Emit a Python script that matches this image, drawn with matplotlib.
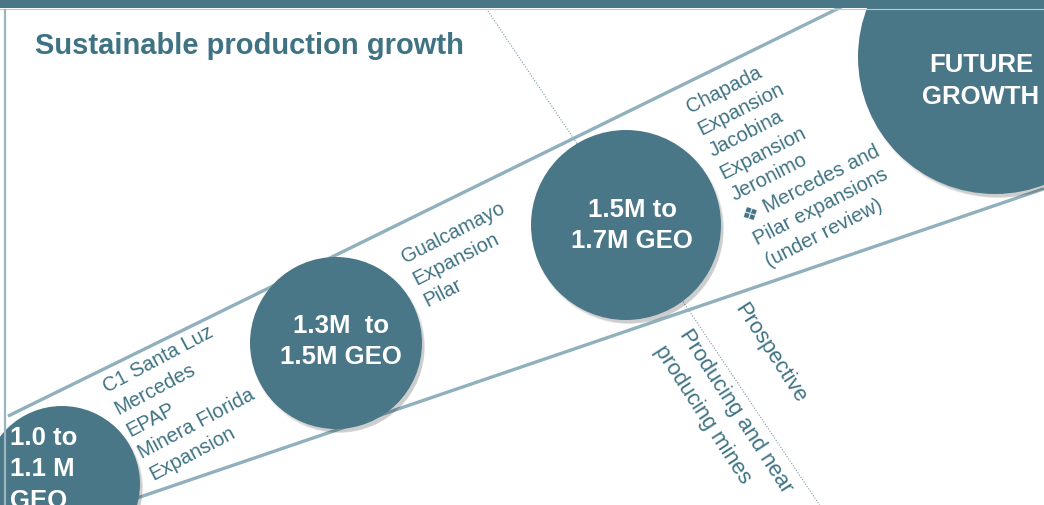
import matplotlib
matplotlib.use("Agg")
import matplotlib.pyplot as plt
from matplotlib.patches import Circle, Rectangle
import numpy as np

plt.rcParams['font.family'] = ['Liberation Sans', 'DejaVu Sans']

# stages of the growth path
stage_labels = [["1.0 to", "1.1 M", "GEO"], ["1.3M  to", "1.5M GEO"],
                ["1.5M to", "1.7M GEO"], ["FUTURE", "GROWTH"]]
projects_1 = ["C1 Santa Luz", "Mercedes", "EPAP", "Minera Florida", "Expansion"]
projects_2 = ["Gualcamayo", "Expansion", "Pilar"]
projects_3 = ["Chapada", "Expansion", "Jacobina", "Expansion", "Jeronimo",
              "\u2756 Mercedes and", "Pilar expansions", "(under review)"]
phase_left = ["Producing and near", "producing mines"]
phase_right = ["Prospective"]
title = "Sustainable production growth"

# layout (pixels)
circle_xy = [(62, 485), (336, 344), (626, 226), (995, 58)]
circle_r = [78, 86, 95, 137]
label_xy = [(10, 445), (341, 333), (632, 217), (981, 72)]
label_ha = ["left", "center", "center", "center"]
proj_xy = [(107, 393), (405, 263), (690, 113)]
proj_rot = [28, 27, 27]

teal = "#4a7787"
text_teal = "#3f7384"
band = "#8fb0bc"

fig = plt.figure(figsize=(10.44, 5.06), dpi=100)
ax = fig.add_axes([0, 0, 1, 1])
ax.set_xlim(0, 1044)
ax.set_ylim(506, 0)
ax.axis("off")


def stack(lines, x0, y0, rot, step, **kw):
    # one text per line, stacked along the rotated "down" direction
    a = np.deg2rad(rot)
    dx, dy = np.sin(a), np.cos(a)
    for i, s in enumerate(lines):
        ax.text(x0 + i * step * dx, y0 + i * step * dy, s, rotation=rot,
                rotation_mode="anchor", va="baseline", zorder=5, **kw)


# dotted divider
ax.plot([488, 830], [12, 12 + 1.49 * 342], color="#7d98a3", lw=0.8, ls=(0, (1, 1.5)), zorder=1)

# band edges
xu = np.array([8, 870])
ax.plot(xu, 421 - 0.491 * xu, color=band, lw=2.4, zorder=2, solid_capstyle="butt")
xl = np.array([100, 1044])
ax.plot(xl, 498 - 0.341 * (xl - 140), color=band, lw=2.4, zorder=2, solid_capstyle="butt")

# circles with soft shadow
for (cx, cy), r in zip(circle_xy, circle_r):
    for k in range(4):
        ax.add_patch(Circle((cx + 2 + k * 0.7, cy + 3 + k * 0.7), r + 1 - k, color="#000000",
                            alpha=0.05, lw=0, zorder=3))
    ax.add_patch(Circle((cx, cy), r, color=teal, lw=0, zorder=4))

for lab, (x, y), ha in zip(stage_labels, label_xy, label_ha):
    stack(lab, x, y, 0, 31.5, color="white", fontsize=18.5, fontweight="bold", ha=ha)

for items, (x, y), rot in zip([projects_1, projects_2, projects_3], proj_xy, proj_rot):
    stack(items, x, y, rot, 24.8, color=text_teal, fontsize=14.5, ha="left")

stack(phase_left, 679, 334, -57, 30, color=text_teal, fontsize=15.8, ha="left")
stack(phase_right, 734, 308, -57, 30, color=text_teal, fontsize=15.8, ha="left")

ax.text(35, 54, title, color=text_teal, fontsize=21, fontweight="bold", ha="left",
        va="baseline", zorder=5)

# top bar and left rule
ax.add_patch(Rectangle((0, 0), 1044, 9, color=teal, lw=0, zorder=10))
ax.plot([0, 1044], [10, 10], color="#b9cbd2", lw=0.8, zorder=10)
ax.plot([5, 5], [11, 506], color="#9ab5bf", lw=1.6, zorder=10)

fig.savefig("out.png", dpi=100)
